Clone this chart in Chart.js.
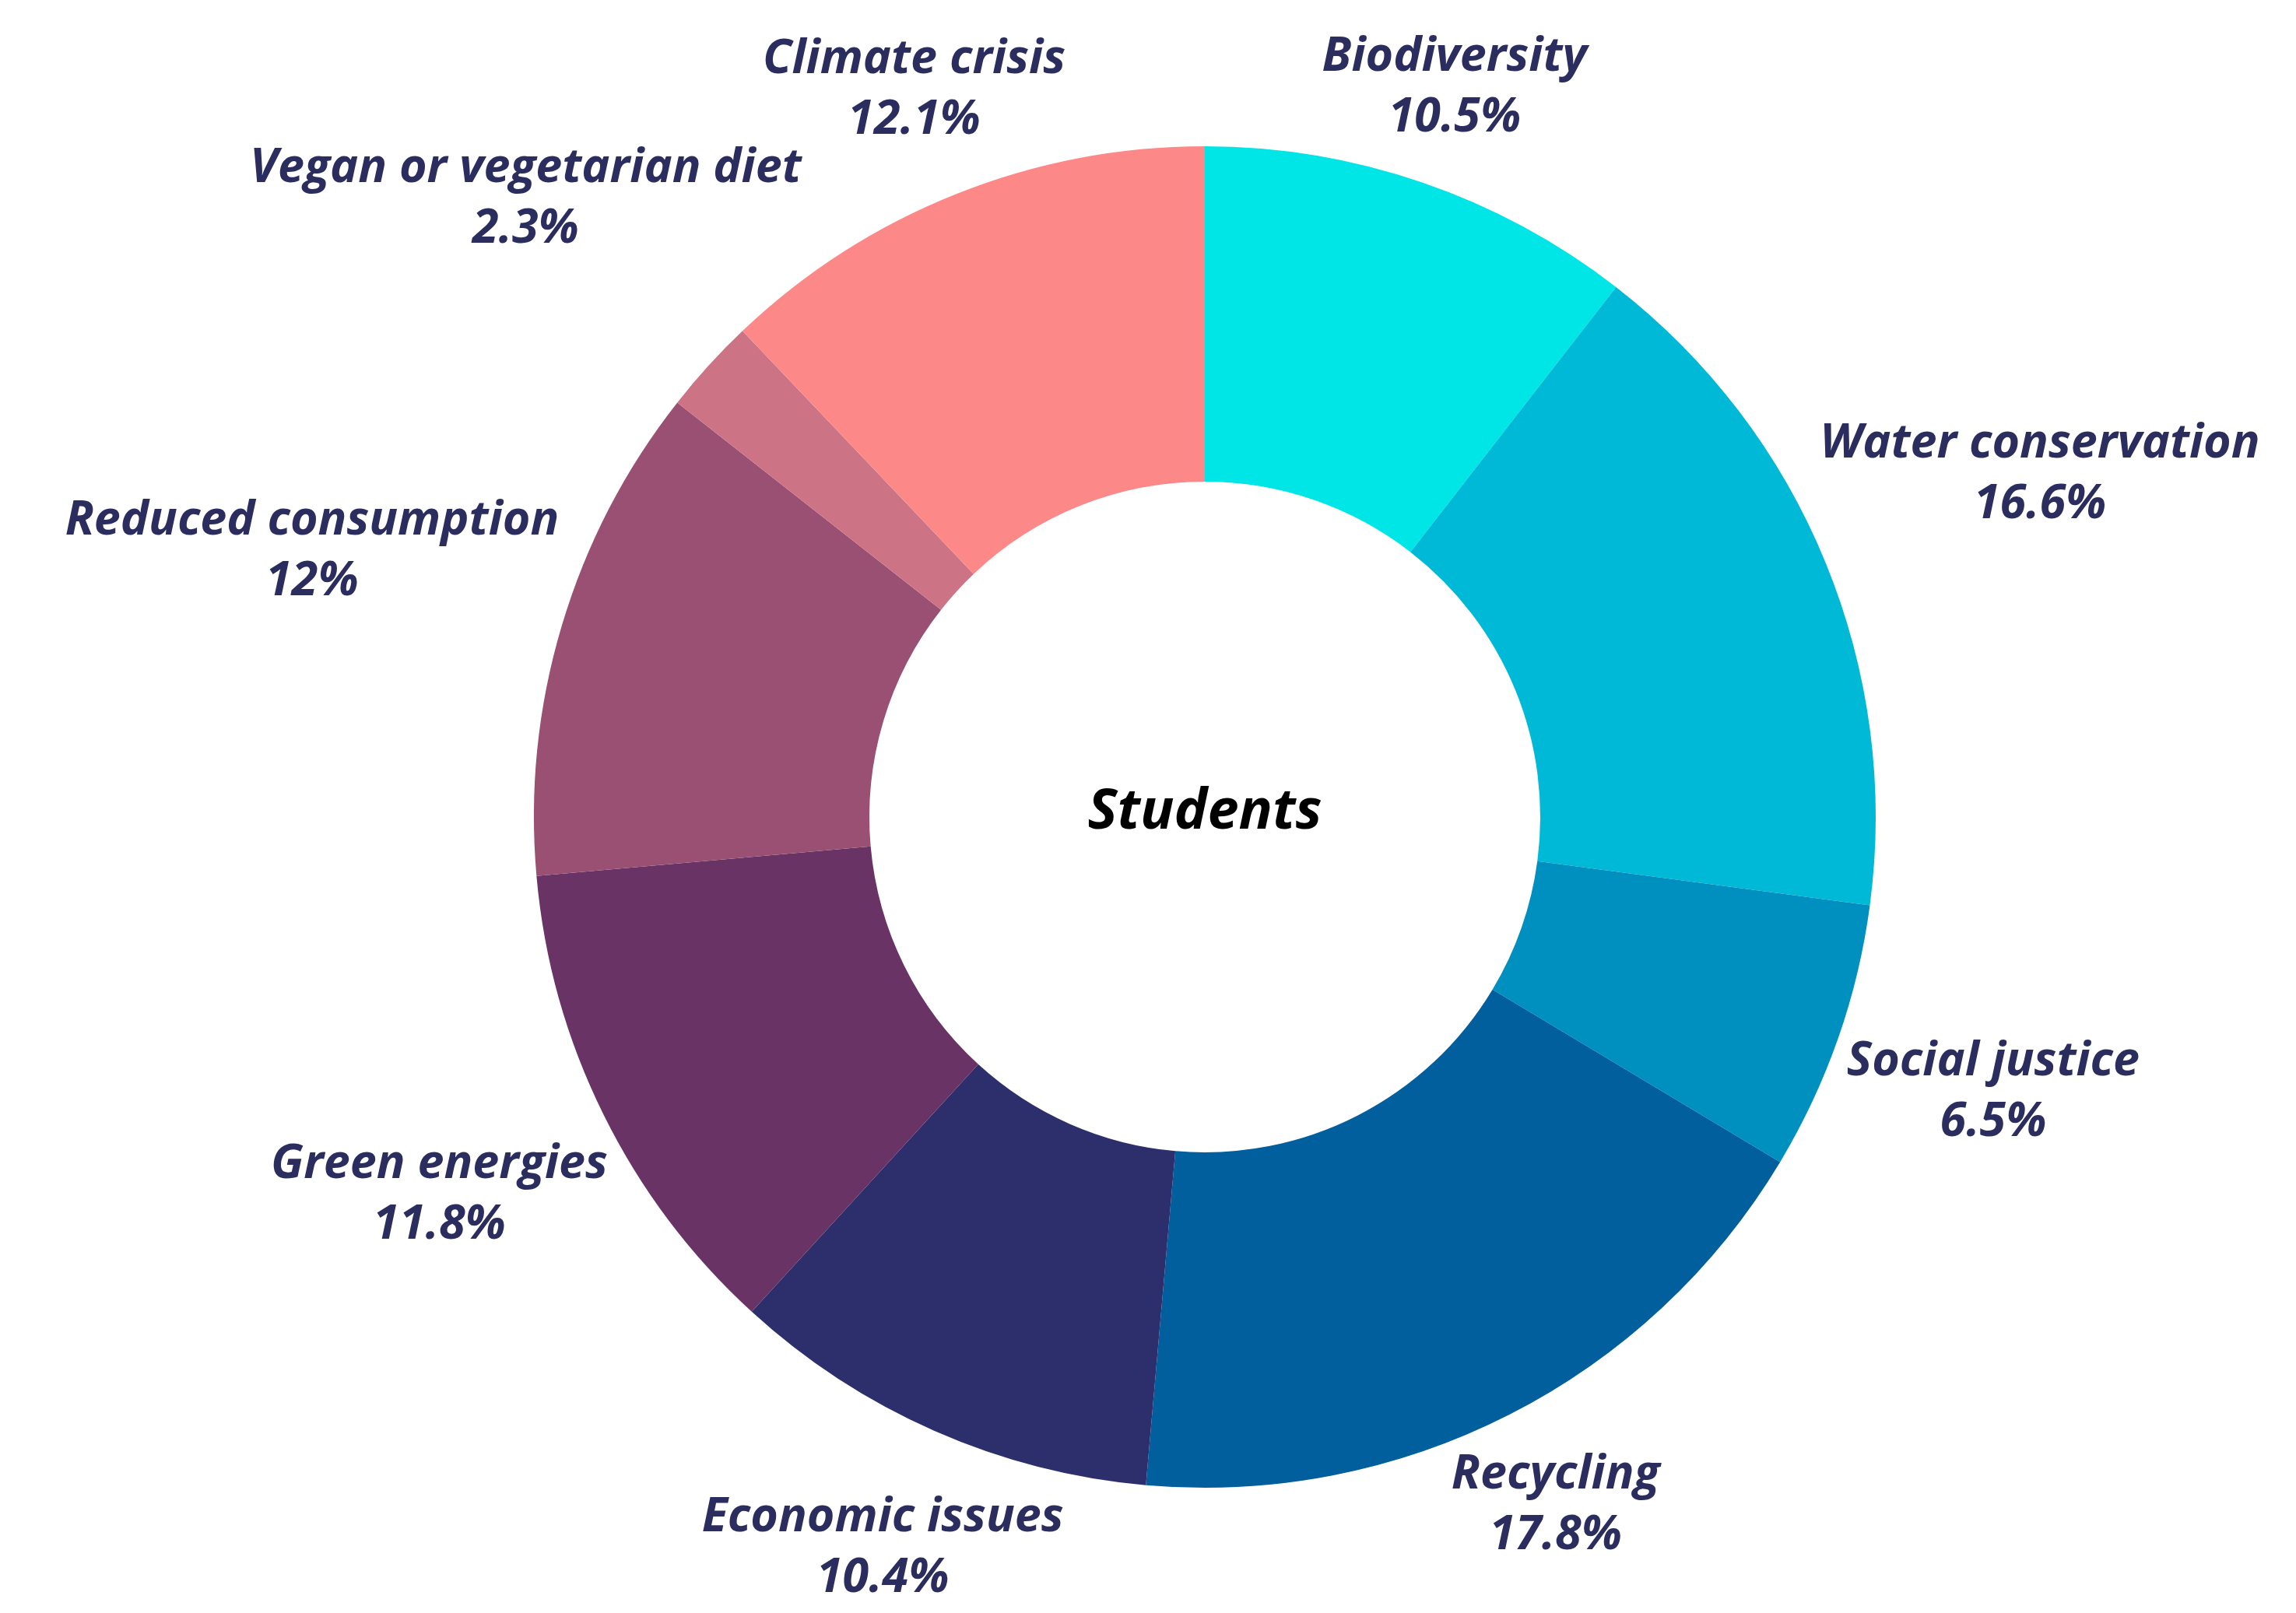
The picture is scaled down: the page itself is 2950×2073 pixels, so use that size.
<!DOCTYPE html>
<html lang="en">
<head>
  <meta charset="UTF-8" />
  <title>Students</title>
  <script src="https://cdn.jsdelivr.net/npm/chart.js"></script>
  <style>
    body {
      margin: 0;
      background: #fff;
    }
    #wrap {
      width: 2950px;
      height: 2073px;
    }
  </style>
</head>
<body>

<div id="wrap"><canvas id="studentsChart" width="2950" height="2073"></canvas></div>

<script>
  const categories = [
    "Biodiversity", "Water conservation", "Social justice", "Recycling",
    "Economic issues", "Green energies", "Reduced consumption",
    "Vegan or vegetarian diet", "Climate crisis"
  ];
  const shares = [10.5, 16.6, 6.5, 17.8, 10.4, 11.8, 12, 2.3, 12.1];
  const sliceColors = [
    "#00e5e6", "#00b9d6", "#0090bf", "#005f9c", "#2c2f6c",
    "#6a3366", "#9a5073", "#cd7386", "#fd8888"
  ];
  const centerTitle = "Students";

  const labelFont = "italic bold 61px 'Open Sans'";
  const labelColor = "#2b2d5e";
  const lineGap = 78;
  const labelPad = 12;

  // draws the name + percentage outside each slice, along its mid angle
  const outerLabels = {
    id: "outerLabels",
    afterDraw(chart) {
      const ctx = chart.ctx;
      const arcs = chart.getDatasetMeta(0).data;
      ctx.save();
      ctx.font = labelFont;
      ctx.fillStyle = labelColor;
      ctx.textAlign = "center";
      ctx.textBaseline = "middle";
      arcs.forEach((arc, i) => {
        const p = arc.getProps(["x", "y", "startAngle", "endAngle", "outerRadius"], true);
        const mid = (p.startAngle + p.endAngle) / 2;
        const lines = [categories[i], shares[i] + "%"];
        const w = Math.max(...lines.map(t => ctx.measureText(t).width));
        const h = lineGap + 52;
        const cos = Math.cos(mid), sin = Math.sin(mid);
        const d = p.outerRadius + labelPad + Math.abs(cos) * w / 2 + Math.abs(sin) * h / 2;
        const cx = p.x + cos * d;
        const cy = p.y + sin * d;
        ctx.fillText(lines[0], cx, cy - lineGap / 2);
        ctx.fillText(lines[1], cx, cy + lineGap / 2);
      });
      // title in the hole
      const a0 = arcs[0];
      ctx.font = "italic bold 72px 'Open Sans'";
      ctx.fillStyle = "#000";
      ctx.fillText(centerTitle, a0.x, a0.y - 6);
      ctx.restore();
    }
  };

  new Chart(document.getElementById("studentsChart"), {
    type: "doughnut",
    data: {
      labels: categories,
      datasets: [{
        data: shares,
        backgroundColor: sliceColors,
        borderWidth: 0
      }]
    },
    options: {
      responsive: false,
      animation: false,
      cutout: "50%",
      layout: { padding: { top: 188, bottom: 161, left: 686, right: 540 } },
      plugins: {
        legend: { display: false },
        tooltip: { enabled: false }
      }
    },
    plugins: [outerLabels]
  });
</script>

</body>
</html>
